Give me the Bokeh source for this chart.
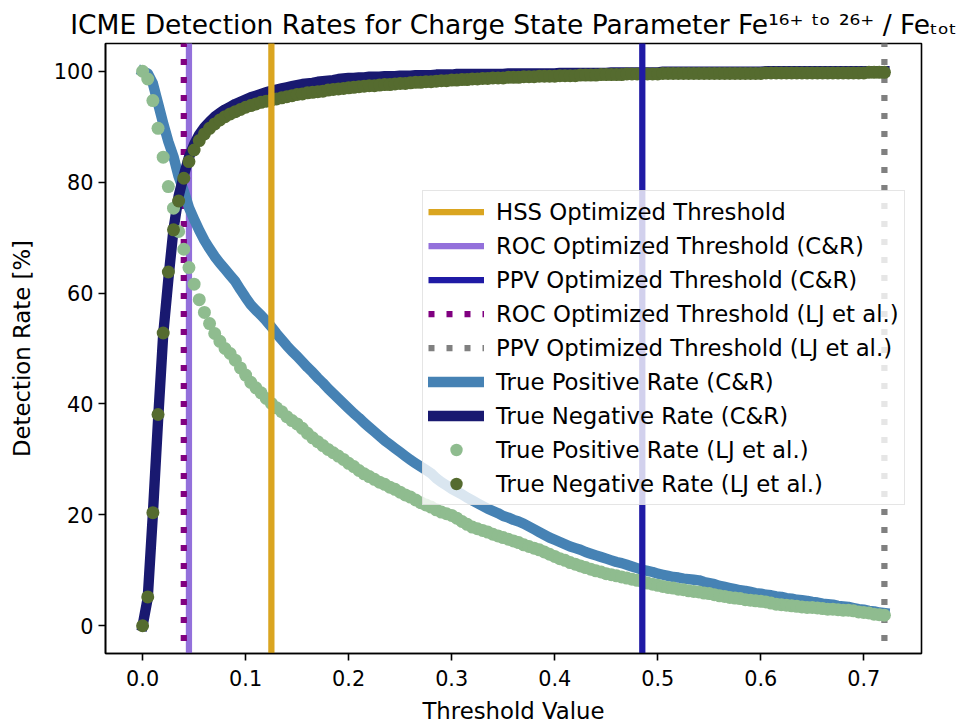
import numpy as np
from bokeh.plotting import figure
from bokeh.models import Range1d, FixedTicker, Legend, LegendItem
from bokeh.embed import file_html
from bokeh.resources import INLINE

# ---- axes ----
X_LIMITS = (-0.036, 0.756)
Y_LIMITS = (-5, 105)
XTICKS = [0.0, 0.1, 0.2, 0.3, 0.4, 0.5, 0.6, 0.7]
XTICK_LABELS = ["0.0", "0.1", "0.2", "0.3", "0.4", "0.5", "0.6", "0.7"]
YTICKS = [0, 20, 40, 60, 80, 100]

TITLE = "ICME Detection Rates for Charge State Parameter Fe\u00b9\u2076\u207a \u1d57\u1d52 \u00b2\u2076\u207a / Fe\u209c\u2092\u209c"

# ---- threshold grid (step 0.005 from 0 to 0.72) ----
THRESHOLDS = np.round(np.arange(145) * 0.005, 3)

# ---- optimized thresholds ----
HSS_THRESHOLD = 0.125
ROC_CR_THRESHOLD = 0.045
PPV_CR_THRESHOLD = 0.485
ROC_LJ_THRESHOLD = 0.04
PPV_LJ_THRESHOLD = 0.72

# ---- detection rates [%] ----
TPR_CR = [
    100.0, 99.6, 97.8, 94.2, 90.6, 87.3, 84.6, 81.0, 78.4, 75.4,
    73.3, 71.3, 69.5, 68.0, 66.6, 65.4, 64.3, 63.2, 62.1, 60.6,
    59.2, 57.9, 56.9, 56.0, 55.0, 53.9, 52.7, 51.6, 50.5, 49.5,
    48.6, 47.6, 46.6, 45.7, 44.7, 43.8, 42.8, 41.9, 41.0, 40.1,
    39.2, 38.3, 37.5, 36.6, 35.8, 35.0, 34.2, 33.4, 32.7, 32.0,
    31.3, 30.6, 29.9, 29.3, 28.7, 28.1, 27.5, 26.6, 25.9, 25.3,
    24.7, 24.2, 23.7, 23.1, 22.6, 22.1, 21.6, 21.1, 20.7, 20.3,
    19.8, 19.5, 19.1, 18.8, 18.4, 17.9, 17.4, 16.9, 16.4, 15.9,
    15.5, 15.1, 14.7, 14.3, 14.0, 13.7, 13.3, 13.0, 12.7, 12.4,
    12.1, 11.8, 11.5, 11.3, 11.0, 10.7, 10.4, 10.1, 9.9, 9.7,
    9.4, 9.2, 9.0, 8.8, 8.7, 8.5, 8.4, 8.3, 8.2, 7.9,
    7.7, 7.5, 7.2, 7.0, 6.8, 6.6, 6.4, 6.3, 6.1, 5.9,
    5.8, 5.6, 5.5, 5.3, 5.2, 5.0, 4.9, 4.7, 4.6, 4.5,
    4.3, 4.2, 4.0, 3.9, 3.8, 3.6, 3.5, 3.4, 3.2, 3.0,
    2.9, 2.7, 2.6, 2.4, 2.3,
]

TNR_CR = [
    0.0, 5.0, 20.2, 37.0, 52.5, 62.5, 71.5, 77.5, 81.2, 84.5,
    86.8, 88.6, 89.9, 90.9, 91.8, 92.5, 93.1, 93.6, 94.1, 94.5,
    94.9, 95.3, 95.6, 95.9, 96.2, 96.5, 96.7, 96.9, 97.1, 97.3,
    97.5, 97.7, 97.8, 97.9, 98.1, 98.2, 98.3, 98.4, 98.6, 98.7,
    98.8, 98.8, 98.9, 98.9, 99.0, 99.0, 99.0, 99.1, 99.1, 99.1,
    99.2, 99.2, 99.2, 99.3, 99.3, 99.3, 99.3, 99.4, 99.4, 99.4,
    99.4, 99.5, 99.5, 99.5, 99.5, 99.5, 99.5, 99.5, 99.5, 99.5,
    99.5, 99.6, 99.6, 99.6, 99.6, 99.6, 99.6, 99.6, 99.6, 99.6,
    99.6, 99.7, 99.7, 99.7, 99.7, 99.7, 99.7, 99.7, 99.7, 99.7,
    99.7, 99.8, 99.8, 99.8, 99.8, 99.8, 99.8, 99.8, 99.8, 99.8,
    99.8, 99.9, 99.9, 99.9, 99.9, 99.9, 99.9, 99.9, 99.9, 99.9,
    99.9, 99.9, 99.9, 99.9, 99.9, 99.9, 99.9, 99.9, 99.9, 99.9,
    99.9, 100.0, 100.0, 100.0, 100.0, 100.0, 100.0, 100.0, 100.0, 100.0,
    100.0, 100.0, 100.0, 100.0, 100.0, 100.0, 100.0, 100.0, 100.0, 100.0,
    100.0, 100.0, 100.0, 100.0, 100.0,
]

TPR_LJ = [
    100.0, 98.6, 94.7, 89.7, 84.5, 79.2, 75.3, 71.1, 67.9, 64.6,
    61.6, 58.8, 56.5, 54.5, 52.7, 51.3, 50.0, 49.1, 47.9, 46.5,
    45.2, 43.9, 42.9, 42.0, 41.0, 40.1, 39.3, 38.6, 37.7, 37.0,
    36.4, 35.6, 34.7, 33.9, 33.2, 32.5, 31.8, 31.2, 30.6, 30.0,
    29.3, 28.7, 28.0, 27.4, 26.9, 26.4, 25.9, 25.5, 25.0, 24.6,
    24.1, 23.6, 23.2, 22.7, 22.2, 21.8, 21.4, 20.9, 20.5, 20.2,
    19.9, 19.4, 18.8, 18.3, 17.8, 17.5, 17.2, 16.9, 16.5, 16.2,
    15.9, 15.6, 15.3, 15.0, 14.6, 14.3, 14.0, 13.7, 13.3, 12.9,
    12.5, 12.1, 11.8, 11.4, 11.1, 10.8, 10.5, 10.2, 9.9, 9.7,
    9.4, 9.2, 9.0, 8.8, 8.6, 8.4, 8.2, 8.0, 7.7, 7.5,
    7.3, 7.1, 6.9, 6.8, 6.6, 6.5, 6.3, 6.2, 6.1, 5.9,
    5.8, 5.6, 5.4, 5.3, 5.1, 5.0, 4.9, 4.7, 4.6, 4.5,
    4.4, 4.3, 4.1, 3.9, 3.8, 3.7, 3.6, 3.5, 3.4, 3.3,
    3.3, 3.2, 3.1, 3.0, 3.0, 2.9, 2.8, 2.8, 2.7, 2.5,
    2.4, 2.3, 2.1, 2.0, 1.9,
]

TNR_LJ = [
    0.0, 5.2, 20.4, 38.1, 52.8, 63.8, 71.4, 76.6, 80.7, 83.7,
    85.8, 87.5, 88.7, 89.7, 90.5, 91.2, 91.8, 92.3, 92.7, 93.1,
    93.5, 93.8, 94.1, 94.4, 94.6, 94.8, 95.0, 95.2, 95.4, 95.6,
    95.8, 95.9, 96.1, 96.2, 96.3, 96.4, 96.6, 96.7, 96.8, 96.9,
    97.0, 97.1, 97.2, 97.3, 97.4, 97.4, 97.5, 97.6, 97.6, 97.7,
    97.8, 97.8, 97.9, 98.0, 98.0, 98.1, 98.1, 98.2, 98.3, 98.3,
    98.4, 98.4, 98.5, 98.5, 98.6, 98.6, 98.7, 98.7, 98.8, 98.8,
    98.8, 98.9, 98.9, 98.9, 99.0, 99.0, 99.0, 99.1, 99.1, 99.1,
    99.1, 99.2, 99.2, 99.2, 99.2, 99.3, 99.3, 99.3, 99.3, 99.4,
    99.4, 99.4, 99.4, 99.4, 99.5, 99.5, 99.5, 99.5, 99.5, 99.5,
    99.5, 99.6, 99.6, 99.6, 99.6, 99.6, 99.6, 99.6, 99.6, 99.6,
    99.6, 99.6, 99.6, 99.6, 99.6, 99.6, 99.6, 99.6, 99.6, 99.6,
    99.6, 99.7, 99.7, 99.7, 99.7, 99.7, 99.7, 99.7, 99.7, 99.7,
    99.7, 99.7, 99.7, 99.7, 99.7, 99.7, 99.7, 99.7, 99.7, 99.7,
    99.7, 99.8, 99.8, 99.8, 99.8,
]

FONT = "DejaVu Sans"
W, H = 974, 726
FRAME_LEFT, FRAME_RIGHT, FRAME_TOP, FRAME_BOTTOM = 105, 53, 43, 73

p = figure(
    width=W, height=H,
    x_range=Range1d(*X_LIMITS), y_range=Range1d(*Y_LIMITS),
    output_backend="svg", toolbar_location=None,
    min_border_left=FRAME_LEFT, min_border_right=FRAME_RIGHT,
    min_border_top=FRAME_TOP, min_border_bottom=FRAME_BOTTOM,
    title=TITLE,
)
p.title.text_font = FONT
p.title.text_font_size = "26.5px"
p.title.text_font_style = "normal"
p.title.text_color = "black"
p.title.align = "center"
p.title.offset = -6
p.title.standoff = 8

p.background_fill_color = "white"
p.border_fill_color = "white"
p.grid.visible = False
p.outline_line_color = "black"
p.outline_line_width = 1.6
p.outline_line_alpha = 1.0

p.xaxis.ticker = FixedTicker(ticks=XTICKS)
p.xaxis.major_label_overrides = dict(zip(XTICKS, XTICK_LABELS))
p.yaxis.ticker = FixedTicker(ticks=YTICKS)
p.xaxis.axis_label = "Threshold Value"
p.yaxis.axis_label = "Detection Rate [%]"
for ax in (p.xaxis[0], p.yaxis[0]):
    ax.major_tick_out = 7
    ax.major_tick_in = 0
    ax.minor_tick_out = 0
    ax.minor_tick_in = 0
    ax.major_tick_line_width = 1.6
    ax.axis_line_width = 1.6
    ax.major_label_text_font = FONT
    ax.major_label_text_font_size = "20.8px"
    ax.major_label_text_color = "black"
    ax.axis_label_text_font = FONT
    ax.axis_label_text_font_size = "22.8px"
    ax.axis_label_text_font_style = "normal"
    ax.axis_label_text_color = "black"
p.xaxis.major_label_standoff = 9
p.yaxis.major_label_standoff = 5
p.xaxis.axis_label_standoff = 9
p.yaxis.axis_label_standoff = 16

# ---- vertical threshold markers beneath the curves ----
vspan = [Y_LIMITS[0] - 1, Y_LIMITS[1] + 1]
r_roc_cr = p.line([ROC_CR_THRESHOLD] * 2, vspan, line_color="mediumpurple",
                  line_width=6.25, line_cap="butt")
r_roc_lj = p.line([ROC_LJ_THRESHOLD] * 2, vspan, line_color="purple",
                  line_width=6.25, line_dash="6 12", line_cap="butt")
r_ppv_lj = p.line([PPV_LJ_THRESHOLD] * 2, vspan, line_color="gray",
                  line_width=6.25, line_dash="6 12", line_cap="butt")

# ---- rate curves ----
r_tpr_cr = p.line(THRESHOLDS, TPR_CR, line_color="steelblue", line_width=10.4,
                  line_cap="square", line_join="round")
r_tnr_cr = p.line(THRESHOLDS, TNR_CR, line_color="midnightblue", line_width=10.4,
                  line_cap="square", line_join="round")
r_tpr_lj = p.scatter(THRESHOLDS, TPR_LJ, size=13, fill_color="darkseagreen",
                     line_color=None)
r_tnr_lj = p.scatter(THRESHOLDS, TNR_LJ, size=13, fill_color="darkolivegreen",
                     line_color=None)

# ---- vertical threshold markers drawn on top ----
r_hss = p.line([HSS_THRESHOLD] * 2, vspan, line_color="goldenrod",
               line_width=6.25, line_cap="butt")
r_ppv_cr = p.line([PPV_CR_THRESHOLD] * 2, vspan, line_color="#1f1aa5",
                  line_width=6.25, line_cap="butt")

legend = Legend(
    items=[
        LegendItem(label="HSS Optimized Threshold", renderers=[r_hss]),
        LegendItem(label="ROC Optimized Threshold (C&R)", renderers=[r_roc_cr]),
        LegendItem(label="PPV Optimized Threshold (C&R)", renderers=[r_ppv_cr]),
        LegendItem(label="ROC Optimized Threshold (LJ et al.)", renderers=[r_roc_lj]),
        LegendItem(label="PPV Optimized Threshold (LJ et al.)", renderers=[r_ppv_lj]),
        LegendItem(label="True Positive Rate (C&R)", renderers=[r_tpr_cr]),
        LegendItem(label="True Negative Rate (C&R)", renderers=[r_tnr_cr]),
        LegendItem(label="True Positive Rate (LJ et al.)", renderers=[r_tpr_lj]),
        LegendItem(label="True Negative Rate (LJ et al.)", renderers=[r_tnr_lj]),
    ],
    location=(317, 148),
    label_text_font=FONT,
    label_text_font_size="22.8px",
    label_text_color="black",
    label_height=31,
    glyph_height=31,
    glyph_width=56,
    label_standoff=12,
    spacing=3,
    padding=5,
    margin=0,
    border_line_color="#cccccc",
    border_line_width=1.2,
    background_fill_color="white",
    background_fill_alpha=0.8,
)
p.add_layout(legend)

open("out.html", "w").write(file_html(p, INLINE))
